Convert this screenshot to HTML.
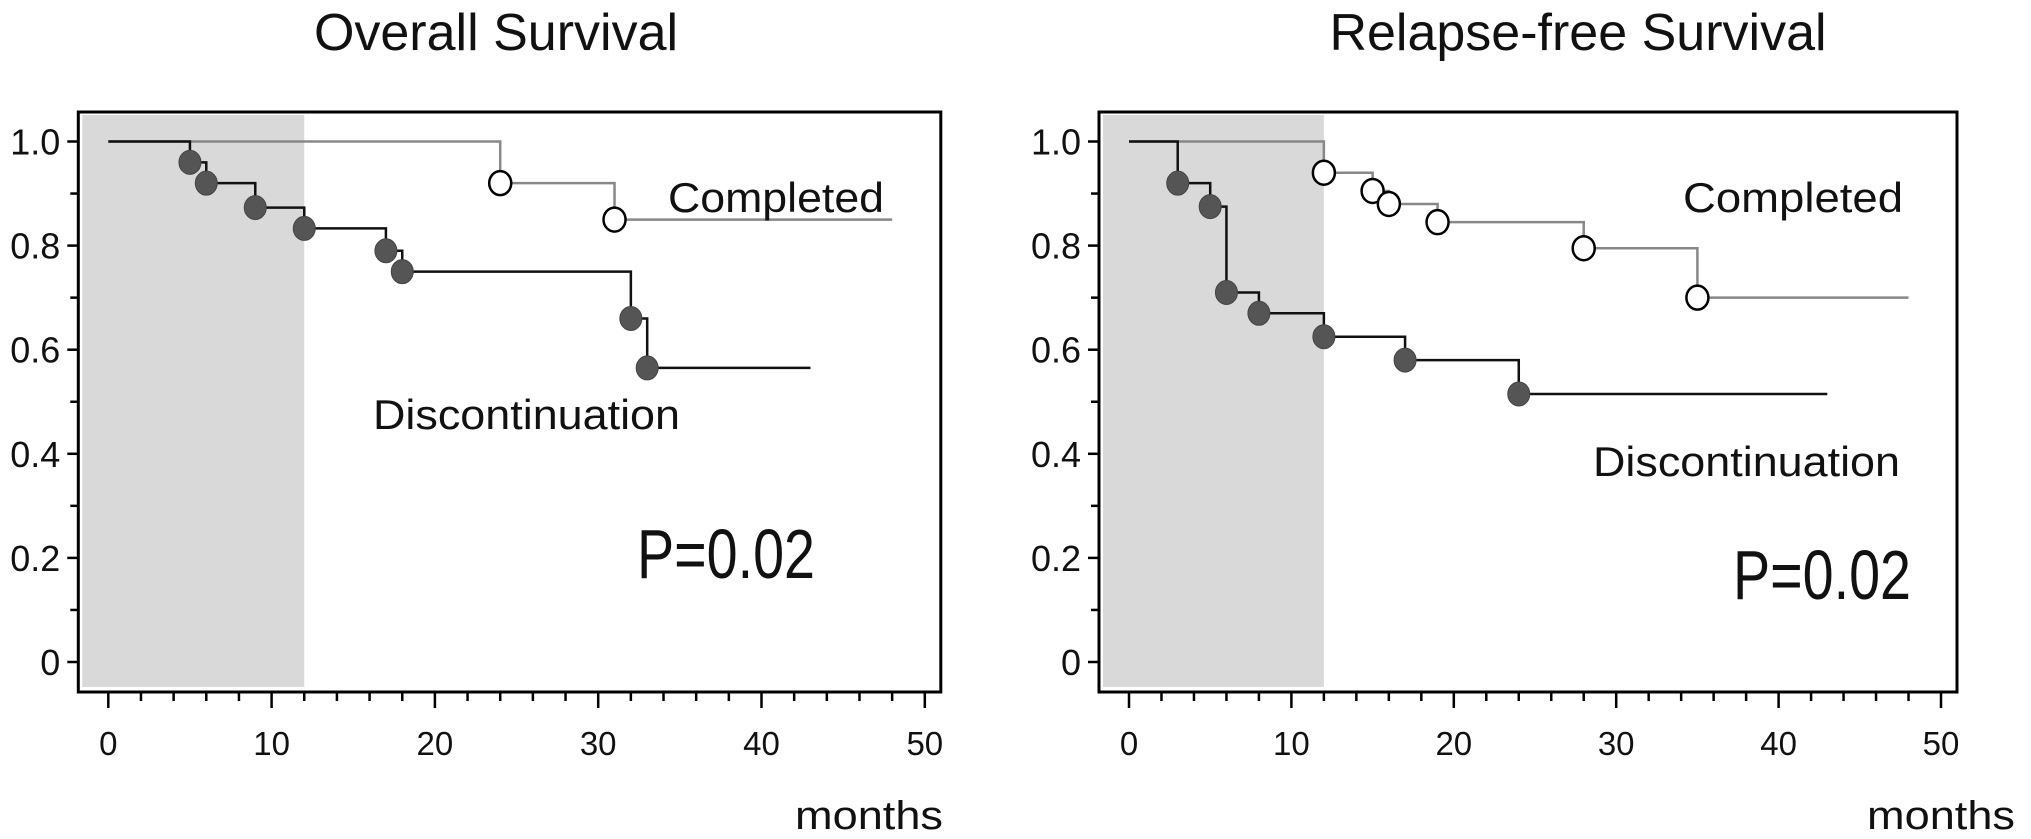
<!DOCTYPE html>
<html><head><meta charset="utf-8"><style>
html,body{margin:0;padding:0;background:#fff;}
svg{display:block;font-family:"Liberation Sans",Arial,sans-serif;}
</style></head><body>
<svg id="chart" width="2031" height="839" viewBox="0 0 2031 839"></svg>
<script>
const xTicks=[0,10,20,30,40,50];
const yTicks=[0,0.2,0.4,0.6,0.8,1.0];
const yTickLabels=["0","0.2","0.4","0.6","0.8","1.0"];
const osDiscTimes=[5,6,9,12,17,18,32,33];
const osDiscSurv=[0.96,0.92,0.873,0.833,0.79,0.75,0.66,0.565];
const osDiscEnd=43;
const osCompTimes=[24,31];
const osCompSurv=[0.92,0.85];
const osCompEnd=48;
const rfsDiscTimes=[3,5,6,8,12,17,24];
const rfsDiscSurv=[0.92,0.875,0.71,0.67,0.625,0.58,0.515];
const rfsDiscEnd=43;
const rfsCompTimes=[12,15,16,19,28,35];
const rfsCompSurv=[0.94,0.905,0.88,0.845,0.795,0.70];
const rfsCompEnd=48;
const shadeEnd=12;

const NS="http://www.w3.org/2000/svg";
const svg=document.getElementById('chart');
function mk(tag,attrs,parent){const e=document.createElementNS(NS,tag);for(const k in attrs)e.setAttribute(k,attrs[k]);(parent||svg).appendChild(e);return e;}
function yS(v){return 662-v*520.5;}

function panel(cfg){
  const g=mk('g',{});
  
  
  const xS=t=>cfg.x0+t*cfg.k;
  const left=cfg.x0-30, right=xS(50)+16, top=112, bottom=692;
  const sh=mk('rect',{x:left+4,y:115,width:xS(shadeEnd)-left-4,height:572,fill:'#d9d9d9'},g);
  
  
  const box=mk('rect',{x:left,y:top,width:right-left,height:bottom-top,fill:'none',stroke:'#000','stroke-width':3},g);
  
  
  for(let i=0;i<=10;i++){
    const v=i/10, major=i%2===0;
    mk('line',{x1:left-(major?11:8),x2:left,y1:yS(v),y2:yS(v),stroke:'#000','stroke-width':2.5},g);
  }
  yTicks.forEach((v,i)=>{
    const t=mk('text',{x:left-18,y:yS(v)+13,'font-size':36,'text-anchor':'end',fill:'#111'},g);
    
    
    t.textContent=yTickLabels[i];
  });
  for(let m=0;m<=50;m+=2){
    const major=m%10===0;
    mk('line',{x1:xS(m),x2:xS(m),y1:bottom,y2:bottom+(major?16:9),stroke:'#000','stroke-width':2.5},g);
  }
  xTicks.forEach(v=>{
    const t=mk('text',{x:xS(v),y:755,'font-size':33,'text-anchor':'middle',fill:'#111'},g);
    
    
    t.textContent=String(v);
  });
  function curve(times,surv,end,color,w,name,open){
    let d='M'+xS(0)+','+yS(1);let prev=1;
    times.forEach((t,i)=>{d+=' L'+xS(t)+','+yS(prev)+' L'+xS(t)+','+yS(surv[i]);prev=surv[i];});
    d+=' L'+xS(end)+','+yS(prev);
    const p=mk('path',{d:d,fill:'none',stroke:color,'stroke-width':w},g);
    
    
    times.forEach((t,i)=>{
      const c=mk('ellipse',{cx:xS(t),cy:yS(surv[i]),rx:11,ry:12,fill:open?'#fff':'#555',stroke:open?'#000':'#444','stroke-width':open?2.5:1},g);
      
      
    });
  }
  curve(cfg.ct,cfg.cs,cfg.ce,'#888',2.5,'completed',true);
  curve(cfg.dt,cfg.ds,cfg.de,'#111',2.5,'discontinuation',false);
  const labels=[[cfg.title,cfg.titleX,50,52,'middle',null,'chart-title'],
    ['Completed',cfg.compX,212,42,'start',cfg.compW,'completed-label'],
    ['Discontinuation',cfg.discX,cfg.discY,42,'start',307,'discontinuation-label'],
    ['P=0.02',cfg.pX,cfg.pY,70,'start',178,'p-value'],
    ['months',cfg.monX,829,40,'start',148,'x-axis-title']];
  labels.forEach(l=>{
    const a={x:l[1],y:l[2],'font-size':l[3],'text-anchor':l[4],fill:'#111'};
    if(l[5]){a.textLength=l[5];a.lengthAdjust='spacingAndGlyphs';}
    const t=mk('text',a,g);
    
    
    t.textContent=l[0];
  });
}
panel({name:'overall-survival-panel',x0:108.3,k:16.33,title:'Overall Survival',titleX:496,
  ct:osCompTimes,cs:osCompSurv,ce:osCompEnd,dt:osDiscTimes,ds:osDiscSurv,de:osDiscEnd,
  compX:668,compW:216,discX:373,discY:429,pX:637,pY:578,monX:795});
panel({name:'relapse-free-survival-panel',x0:1129,k:16.24,title:'Relapse-free Survival',titleX:1578,
  ct:rfsCompTimes,cs:rfsCompSurv,ce:rfsCompEnd,dt:rfsDiscTimes,ds:rfsDiscSurv,de:rfsDiscEnd,
  compX:1683,compW:220,discX:1593,discY:476,pX:1733,pY:599,monX:1867});
</script>
</body></html>
